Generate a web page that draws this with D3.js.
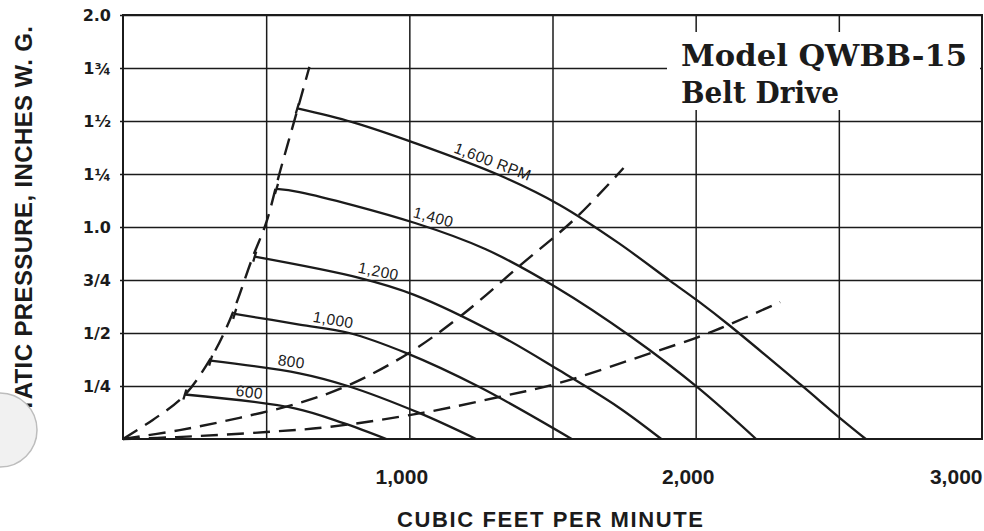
<!DOCTYPE html>
<html>
<head>
<meta charset="utf-8">
<script src="https://cdn.jsdelivr.net/npm/d3@7"></script>
<style>
body{margin:0;background:#fff;}
svg{display:block;}
</style>
</head>
<body>
<svg id="chart" width="984" height="531"></svg>
<script>
// fan performance, cfm vs static pressure (in. w.g.), one curve per rpm
var rpmNames = ["600", "800", "1,000", "1,200", "1,400", "1,600 RPM"];
var rpm600  = [[216,0.21],[600,0.145],[770,0.075],[920,0]];
var rpm800  = [[306,0.37],[616,0.31],[785,0.25],[1034,0.123],[1233,0]];
var rpm1000 = [[390,0.59],[616,0.54],[790,0.50],[990,0.405],[1245,0.245],[1567,0]];
var rpm1200 = [[460,0.86],[825,0.76],[1017,0.68],[1313,0.49],[1522,0.325],[1730,0.15],[1880,0]];
var rpm1400 = [[536,1.18],[616,1.165],[1020,1.019],[1267,0.895],[1511,0.717],[1776,0.481],[2009,0.241],[2211,0]];
var rpm1600 = [[609,1.56],[801,1.495],[1020,1.396],[1313,1.245],[1525,1.104],[1730,0.925],[1912,0.745],[2009,0.65],[2114,0.54],[2368,0.255],[2503,0.10],[2594,0]];
var rpmCurves = [rpm600, rpm800, rpm1000, rpm1200, rpm1400, rpm1600];
var rpmLabelCfm = [390, 536, 658, 815, 1006, 1146];

// dashed lines
var surgeLine = [[0,0],[104,0.09],[209,0.198],[303,0.373],[373,0.561],[453,0.858],[501,1.024],[547,1.255],[609,1.552],[651,1.755]];
var systemMid = [[0,0],[198,0.042],[407,0.10],[616,0.17],[790,0.255],[999,0.406],[1184,0.585],[1389,0.821],[1581,1.042],[1748,1.278]];
var systemLow = [[0,0],[188,0.009],[501,0.033],[721,0.057],[1045,0.123],[1313,0.198],[1522,0.264],[1845,0.406],[2009,0.481],[2114,0.538],[2295,0.646]];
var dashedLines = [surgeLine, systemMid, systemLow];

var yTickValues = [0.25, 0.5, 0.75, 1.0, 1.25, 1.5, 1.75, 2.0];
var yTickLabels = ["1/4", "1/2", "3/4", "1.0", "1\u00BC", "1\u00BD", "1\u00BE", "2.0"];
var xGridValues = [500, 1000, 1500, 2000, 2500];
var xLabelValues = [1000, 2000, 3000];

var titleLines = ["Model QWBB-15", "Belt Drive"];
var yTitle = "STATIC PRESSURE, INCHES W. G.";
var xTitle = "CUBIC FEET PER MINUTE";

var ink = "#1b1b1b";
var svg = d3.select("#chart");
var x = d3.scaleLinear().domain([0, 3000]).range([123, 982]);
var y = d3.scaleLinear().domain([0, 2]).range([439, 15]);

// horizontal grid + y labels
var yAxis = svg.append("g")
    .attr("transform", "translate(120,0)")
    .call(d3.axisLeft(y).tickValues(yTickValues).tickSize(-862).tickPadding(9)
      .tickFormat(function(d, i){ return yTickLabels[i]; }));
yAxis.select(".domain").remove();
yAxis.selectAll("line").attr("stroke", ink).attr("stroke-width", 1.5);
yAxis.selectAll("text")
    .attr("fill", ink)
    .attr("font-family", "'DejaVu Sans', sans-serif")
    .attr("font-weight", "bold")
    .attr("font-size", 16);

// vertical grid
var xGrid = svg.append("g")
    .attr("transform", "translate(0,439)")
    .call(d3.axisBottom(x).tickValues(xGridValues).tickSize(-424).tickFormat(""));
xGrid.select(".domain").remove();
xGrid.selectAll("line").attr("stroke", ink).attr("stroke-width", 1.5);

// x labels
var xAxis = svg.append("g")
    .attr("transform", "translate(0,439)")
    .call(d3.axisBottom(x).tickValues(xLabelValues).tickSize(0).tickPadding(30)
      .tickFormat(d3.format(",")));
xAxis.select(".domain").remove();
xAxis.selectAll("text")
    .attr("fill", ink)
    .attr("font-family", "'Liberation Sans', Arial, sans-serif")
    .attr("font-weight", "bold")
    .attr("font-size", 21)
    .attr("dx", -8);
xAxis.selectAll("text").filter(function(d){ return d == 3000; })
    .attr("text-anchor", "end").attr("dx", 0);

// frame
svg.append("rect")
    .attr("x", x(0)).attr("y", y(2))
    .attr("width", x(3000) - x(0)).attr("height", y(0) - y(2))
    .attr("fill", "none").attr("stroke", ink).attr("stroke-width", 2);

// model title box covers the grid behind it
svg.append("rect")
    .attr("x", 667).attr("y", 32).attr("width", 313).attr("height", 78)
    .attr("fill", "#fff");
svg.append("g").selectAll("text")
    .data(titleLines)
    .enter()
    .append("text")
    .attr("x", 681)
    .attr("y", function(d, i){ return 66 + i * 37; })
    .attr("fill", ink)
    .attr("font-family", "'DejaVu Serif', serif")
    .attr("font-weight", "bold")
    .attr("font-size", 30)
    .attr("textLength", function(d, i){ return i == 0 ? 286 : 158; })
    .attr("lengthAdjust", "spacingAndGlyphs")
    .text(function(d){ return d; });

var line = d3.line()
    .x(function(d){ return x(d[0]); })
    .y(function(d){ return y(d[1]); })
    .curve(d3.curveCatmullRom.alpha(0.5));

// dashed surge / system lines
svg.append("g").selectAll("path")
    .data(dashedLines)
    .enter()
    .append("path")
    .attr("d", line)
    .attr("fill", "none")
    .attr("stroke", ink)
    .attr("stroke-width", 2.4)
    .attr("stroke-dasharray", "17,9");

// rpm curves
svg.append("g").selectAll("path")
    .data(rpmCurves)
    .enter()
    .append("path")
    .attr("d", line)
    .attr("fill", "none")
    .attr("stroke", ink)
    .attr("stroke-width", 2.3);

// little start ticks
svg.append("g").selectAll("line")
    .data(rpmCurves)
    .enter()
    .append("line")
    .attr("x1", function(d){ return x(d[0][0]) - 1.5; })
    .attr("y1", function(d){ return y(d[0][1]) + 5; })
    .attr("x2", function(d){ return x(d[0][0]) + 1.5; })
    .attr("y2", function(d){ return y(d[0][1]) - 5; })
    .attr("stroke", ink)
    .attr("stroke-width", 2.3);

// rpm labels, sitting on the curve
function labelSpot(pts, cfm){
  var i = 1;
  while(i < pts.length - 1 && pts[i][0] < cfm) i++;
  var a = pts[i - 1], b = pts[i];
  var t = (cfm - a[0]) / (b[0] - a[0]);
  var px = x(cfm), py = y(a[1] + t * (b[1] - a[1]));
  var ang = Math.atan2(y(b[1]) - y(a[1]), x(b[0]) - x(a[0])) * 180 / Math.PI;
  return [px, py, ang];
}
svg.append("g").selectAll("text")
    .data(rpmNames)
    .enter()
    .append("text")
    .attr("transform", function(d, i){
      var s = labelSpot(rpmCurves[i], rpmLabelCfm[i]);
      return "translate(" + s[0] + "," + s[1] + ") rotate(" + s[2] + ")";
    })
    .attr("y", -5)
    .attr("fill", ink)
    .attr("font-family", "'Liberation Sans', Arial, sans-serif")
    .attr("font-size", 15.5)
    .attr("letter-spacing", 0.4)
    .text(function(d){ return d; });

// axis titles
svg.append("text")
    .attr("x", 550).attr("y", 527)
    .attr("text-anchor", "middle")
    .attr("fill", ink)
    .attr("font-family", "'Liberation Sans', Arial, sans-serif")
    .attr("font-weight", "bold")
    .attr("font-size", 22)
    .attr("textLength", 306)
    .text(xTitle);

svg.append("text")
    .attr("transform", "translate(32,26) rotate(-90)")
    .attr("text-anchor", "end")
    .attr("fill", ink)
    .attr("font-family", "'Liberation Sans', Arial, sans-serif")
    .attr("font-weight", "bold")
    .attr("font-size", 24)
    .attr("textLength", 403)
    .text(yTitle);

// punch hole over the start of the title
svg.append("circle")
    .attr("cx", 0).attr("cy", 430).attr("r", 37)
    .attr("fill", "#f1f1f1")
    .attr("stroke", "#bdbdbd")
    .attr("stroke-width", 1.5);
</script>
</body>
</html>
